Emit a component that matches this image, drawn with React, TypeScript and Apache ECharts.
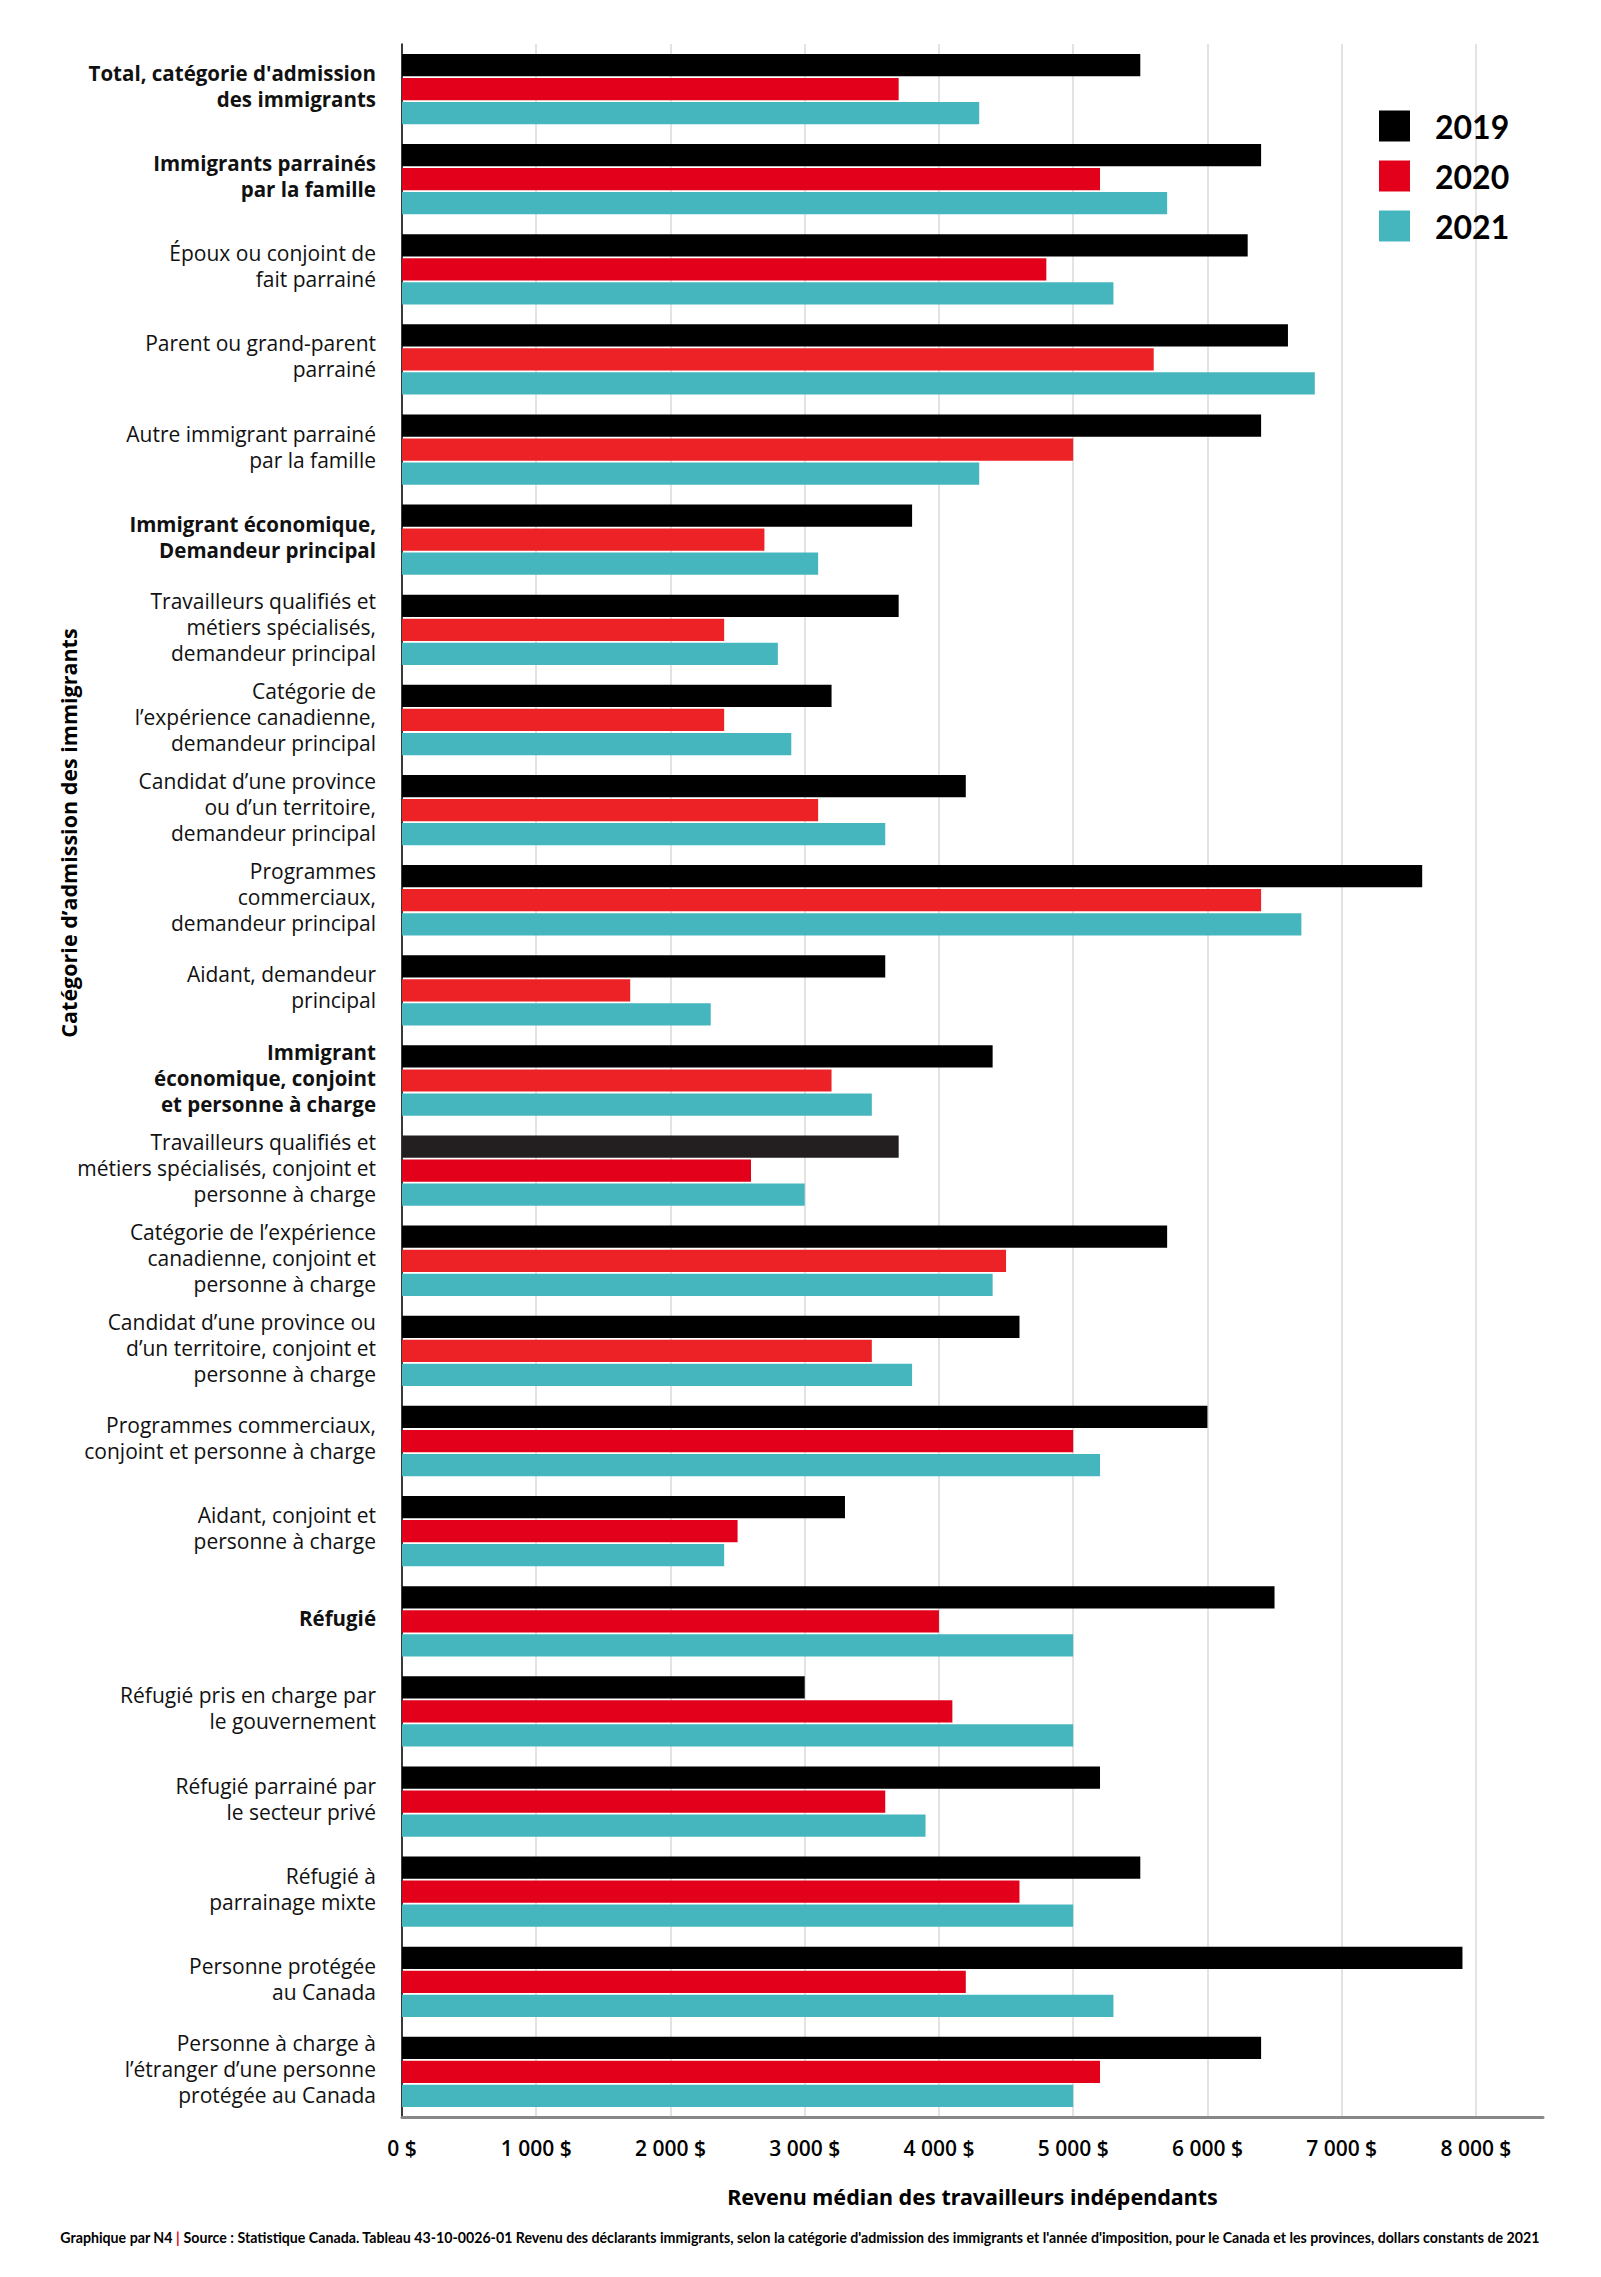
import React, { useEffect, useRef } from "react";
import * as echarts from "echarts";

const categories = [
  "Total, catégorie d'admission\ndes immigrants",
  "Immigrants parrainés\npar la famille",
  "Époux ou conjoint de\nfait parrainé",
  "Parent ou grand-parent\nparrainé",
  "Autre immigrant parrainé\npar la famille",
  "Immigrant économique,\nDemandeur principal",
  "Travailleurs qualifiés et\nmétiers spécialisés,\ndemandeur principal",
  "Catégorie de\nl’expérience canadienne,\ndemandeur principal",
  "Candidat d’une province\nou d’un territoire,\ndemandeur principal",
  "Programmes\ncommerciaux,\ndemandeur principal",
  "Aidant, demandeur\nprincipal",
  "Immigrant\néconomique, conjoint\net personne à charge",
  "Travailleurs qualifiés et\nmétiers spécialisés, conjoint et\npersonne à charge",
  "Catégorie de l’expérience\ncanadienne, conjoint et\npersonne à charge",
  "Candidat d’une province ou\nd’un territoire, conjoint et\npersonne à charge",
  "Programmes commerciaux,\nconjoint et personne à charge",
  "Aidant, conjoint et\npersonne à charge",
  "Réfugié",
  "Réfugié pris en charge par\nle gouvernement",
  "Réfugié parrainé par\nle secteur privé",
  "Réfugié à\nparrainage mixte",
  "Personne protégée\nau Canada",
  "Personne à charge à\nl’étranger d’une personne\nprotégée au Canada",
];

const boldCategories = [0, 1, 5, 11, 17];

const values2019 = [5500, 6400, 6300, 6600, 6400, 3800, 3700, 3200, 4200, 7600, 3600, 4400, 3700, 5700, 4600, 6000, 3300, 6500, 3000, 5200, 5500, 7900, 6400];
const values2020 = [3700, 5200, 4800, 5600, 5000, 2700, 2400, 2400, 3100, 6400, 1700, 3200, 2600, 4500, 3500, 5000, 2500, 4000, 4100, 3600, 4600, 4200, 5200];
const values2021 = [4300, 5700, 5300, 6800, 4300, 3100, 2800, 2900, 3600, 6700, 2300, 3500, 3000, 4400, 3800, 5200, 2400, 5000, 5000, 3900, 5000, 5300, 5000];

const seriesNames = ["2019", "2020", "2021"];
const colorBlack = "#000000";
const colorBlackAlt = "#231f20";
const colorRed = "#e2001a";
const colorRedLight = "#ec2227";
const colorTeal = "#46b6be";

// groups whose 2020 bar uses the lighter red
const lightRedGroups = [3, 4, 5, 6, 7, 8, 9, 10, 11, 13, 14];
const altBlackGroups = [12];

const xMax = 8500;
const xInterval = 1000;

const LABEL_FONT = "'Open Sans', 'Noto Sans', sans-serif";
const LEGEND_FONT = "Lato, 'Noto Sans', sans-serif";
const AXIS_FONT = "'Open Sans', 'Noto Sans', sans-serif";

function fmtMoney(v: number): string {
  return String(v).replace(/\B(?=(\d{3})+(?!\d))/g, " ") + " $";
}

export default function App() {
  const ref = useRef<HTMLDivElement>(null);

  useEffect(() => {
    document.body.style.margin = "0";
    if (!ref.current) return;
    const chart = echarts.init(ref.current, null, { renderer: "svg" });

    const data2019 = values2019.map((v, i) => ({
      value: v,
      itemStyle: { color: altBlackGroups.includes(i) ? colorBlackAlt : colorBlack },
    }));
    const data2020 = values2020.map((v, i) => ({
      value: v,
      itemStyle: { color: lightRedGroups.includes(i) ? colorRedLight : colorRed },
    }));
    const data2021 = values2021.map((v) => ({ value: v }));

    chart.setOption({
      animation: false,
      backgroundColor: "#ffffff",
      grid: { left: 402, right: 58, top: 44, bottom: 160, containLabel: false },
      legend: {
        orient: "vertical",
        left: 1374,
        top: 105,
        itemWidth: 31,
        itemHeight: 31,
        itemGap: 18,
        icon: "rect",
        data: seriesNames,
        textStyle: {
          fontFamily: LEGEND_FONT,
          fontWeight: "bold",
          fontSize: 32,
          color: "#000",
          padding: [0, 0, 0, 20],
        },
      },
      xAxis: {
        type: "value",
        min: 0,
        max: xMax,
        interval: xInterval,
        name: "Revenu médian des travailleurs indépendants",
        nameLocation: "middle",
        nameGap: 68,
        nameTextStyle: {
          fontFamily: "'Noto Sans', sans-serif",
          fontWeight: "bold",
          fontSize: 21.5,
          color: "#000",
        },
        axisLine: { show: true, lineStyle: { color: "#888888", width: 3 } },
        axisTick: { show: false },
        axisLabel: {
          formatter: (v: number) => fmtMoney(v),
          showMaxLabel: false,
          margin: 20,
          fontFamily: AXIS_FONT,
          fontWeight: 600,
          fontSize: 21,
          color: "#000",
        },
        splitLine: {
          show: true,
          showMaxLine: false,
          lineStyle: { color: "#e3e3e3", width: 2 },
        },
      },
      yAxis: {
        type: "category",
        inverse: true,
        data: categories,
        axisLine: { show: true, lineStyle: { color: "#000", width: 1.5 } },
        axisTick: { show: false },
        axisLabel: {
          margin: 26,
          align: "right",
          padding: [0, 0, 6, 0],
          formatter: (value: string, idx: number) => {
            const style = boldCategories.includes(idx) ? "b" : "r";
            return value
              .split("\n")
              .map((l) => `{${style}|${l}}`)
              .join("\n");
          },
          rich: {
            r: {
              fontFamily: LABEL_FONT,
              fontSize: 21,
              lineHeight: 26,
              color: "#111",
              align: "right",
            },
            b: {
              fontFamily: LABEL_FONT,
              fontSize: 20.5,
              fontWeight: "bold",
              lineHeight: 26,
              color: "#111",
              align: "right",
            },
          },
        },
      },
      series: [
        {
          name: seriesNames[0],
          type: "bar",
          data: data2019,
          itemStyle: { color: colorBlack },
          barGap: "8%",
          barCategoryGap: "22%",
        },
        {
          name: seriesNames[1],
          type: "bar",
          data: data2020,
          itemStyle: { color: colorRed },
          barGap: "8%",
          barCategoryGap: "22%",
        },
        {
          name: seriesNames[2],
          type: "bar",
          data: data2021,
          itemStyle: { color: colorTeal },
          barGap: "8%",
          barCategoryGap: "22%",
        },
      ],
      graphic: [
        {
          type: "text",
          x: 68,
          y: 833,
          rotation: Math.PI / 2,
          style: {
            text: "Catégorie d’admission des immigrants",
            fontFamily: LABEL_FONT,
            fontWeight: "bold",
            fontSize: 21.5,
            fill: "#000",
            align: "center",
            verticalAlign: "middle",
          },
        },
        {
          type: "text",
          x: 800,
          y: 2237,
          style: {
            text:
              "{t|Graphique par N4 }{red||}{t| Source : Statistique Canada. Tableau 43-10-0026-01 Revenu des déclarants immigrants, selon la catégorie d'admission des immigrants et l'année d'imposition, pour le Canada et les provinces, dollars constants de 2021}",
            align: "center",
            verticalAlign: "middle",
            rich: {
              t: {
                fontFamily: LEGEND_FONT,
                fontWeight: "bold",
                fontSize: 14.2,
                fill: "#000",
              },
              red: {
                fontFamily: LEGEND_FONT,
                fontWeight: "bold",
                fontSize: 14.2,
                fill: "#e2001a",
              },
            },
          },
        },
      ],
    });

    return () => chart.dispose();
  }, []);

  return <div ref={ref} style={{ width: 1601, height: 2277 }} />;
}
